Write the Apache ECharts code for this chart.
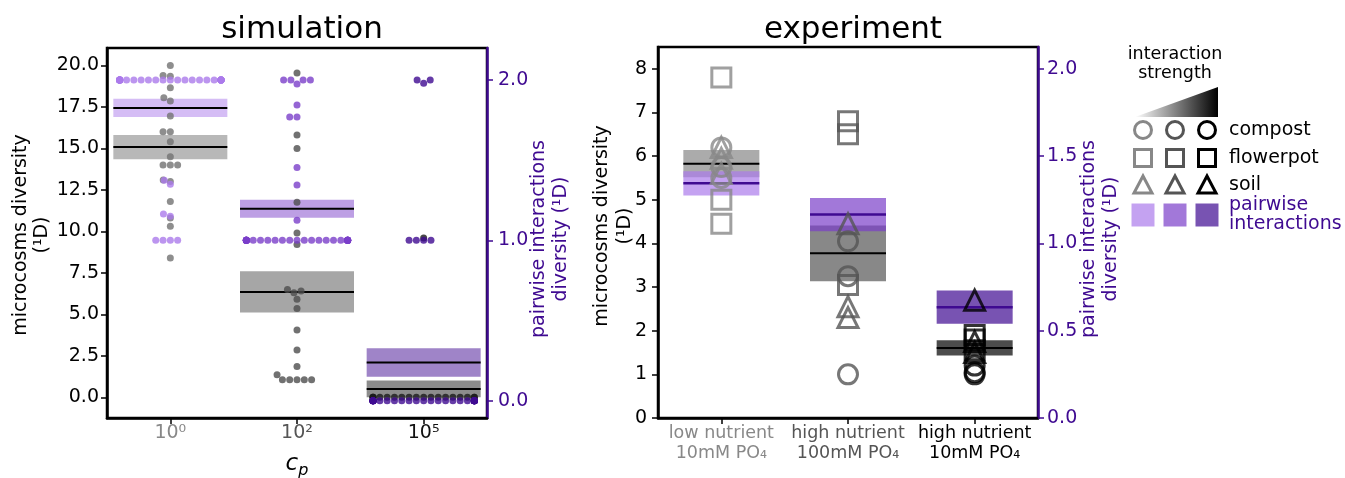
<!DOCTYPE html>
<html>
<head>
<meta charset="utf-8">
<script src="https://cdn.jsdelivr.net/npm/echarts@6/dist/echarts.min.js"></script>
<style>
html, body { margin: 0; padding: 0; background: #fff; }
#chart { width: 1345px; height: 478px; }
</style>
</head>
<body>
<div id="chart"></div>
<script>
var FONT = 'DejaVu Sans';
var PURPLE = '#3f0a91';

// ---- simulation panel ----
var simLabels = ['10⁰', '10²', '10⁵'];
var simLabelColors = ['#888888', '#555555', '#111111'];
var simGrayColors = ['#727272', '#4d4d4d', '#1a1a1a'];
var simPairColors = ['#ab7beb', '#7b3fc9', '#3f0a91'];
var simMicroTicks = [0, 2.5, 5, 7.5, 10, 12.5, 15, 17.5, 20];
var simPairTicks = [0, 1, 2];

// microcosms diversity of each replicate, per c_p
var simMicroLow = [20.0, 19.4, 19.35, 18.65, 18.05, 17.85, 16.95, 16.0, 16.0, 15.4,
  14.5, 14.0, 14.0, 14.0, 13.1, 13.0, 11.8, 10.8, 10.3, 8.4];
var simMicroMid = [19.55, 15.8, 15.0, 11.75, 9.9, 9.2, 6.5, 6.4, 6.3, 5.9,
  5.35, 4.05, 2.85, 1.85, 1.35, 1.05, 1.05, 1.05, 1.05, 1.05];
var simMicroHigh = [9.6, 0, 0, 0, 0, 0, 0, 0, 0, 0, 0, 0, 0, 0, 0, 0, 0, 0, 0];

// pairwise interactions diversity, per c_p
var simPairLow = [2.0, 2.0, 2.0, 2.0, 2.0, 2.0, 2.0, 2.0, 2.0, 2.0, 2.0, 2.0, 2.0, 2.0, 2.0, 2.0,
  2.0, 2.0, 2.0, 2.0, 2.0, 2.0, 2.0, 2.0, 2.0, 2.0, 2.0, 2.0, 2.0, 2.0, 2.0, 2.0,
  1.375, 1.35, 1.165, 1.15, 1.0, 1.0, 1.0, 1.0];
var simPairMid = [2.0, 2.0, 2.0, 2.0, 1.975, 1.845, 1.77, 1.77, 1.455, 1.345, 1.125,
  1.0, 1.0, 1.0, 1.0, 1.0, 1.0, 1.0, 1.0, 1.0, 1.0, 1.0, 1.0, 1.0, 1.0, 1.0, 1.0,
  1.0, 1.0, 1.0, 1.0, 1.0, 1.0, 1.0, 1.0, 1.0, 1.0, 1.0, 1.0, 1.0, 1.0, 1.0];
var simPairHigh = [2.0, 2.0, 1.98, 1.0, 1.0, 1.0, 1.0,
  0, 0, 0, 0, 0, 0, 0, 0, 0, 0, 0, 0, 0, 0, 0, 0, 0, 0, 0, 0, 0, 0, 0, 0, 0, 0, 0, 0, 0, 0, 0, 0, 0, 0, 0];

// ---- experiment panel ----
var expLabels = ['low nutrient\n10mM PO₄', 'high nutrient\n100mM PO₄', 'high nutrient\n10mM PO₄'];
var expColors = ['#888888', '#555555', '#000000'];
var expPairColors = ['#ab7beb', '#7b3fc9', '#3f0a91'];
var expMicroTicks = [0, 1, 2, 3, 4, 5, 6, 7, 8];
var expPairTicks = [0, 0.5, 1, 1.5, 2];
var expCompost = [[6.2, 5.75, 5.5], [4.05, 3.25, 1.0], [1.2, 1.05, 1.0]];
var expFlowerpot = [[7.8, 5.0, 4.45], [6.8, 6.5, 3.05], [1.9, 1.8, 1.55]];
var expSoil = [[6.2, 5.95, 5.6], [4.45, 2.55, 2.3], [2.7, 1.75, 1.5]];
var expPairMean = [1.344, 1.165, 0.635];
var expPairLo = [1.275, 1.07, 0.54];
var expPairHi = [1.413, 1.26, 0.731];

function meanSe(a) {
  var n = a.length, m = 0, v = 0;
  a.forEach(function (x) { m += x; });
  m /= n;
  a.forEach(function (x) { v += (x - m) * (x - m); });
  var se = Math.sqrt(v / (n - 1) / n);
  return [m, m - se, m + se];
}

function rgba(hex, a) {
  var r = parseInt(hex.substr(1, 2), 16), g = parseInt(hex.substr(3, 2), 16), b = parseInt(hex.substr(5, 2), 16);
  return 'rgba(' + r + ',' + g + ',' + b + ',' + a + ')';
}

// seaborn-like beeswarm on pixel positions, returns pixel offsets
function swarm(pys, d, gutter) {
  var order = pys.map(function (y, i) { return i; }).sort(function (a, b) { return pys[b] - pys[a]; });
  var placed = [], out = [];
  order.forEach(function (i) {
    var y = pys[i];
    var near = placed.filter(function (p) { return Math.abs(p.y - y) < d; });
    var cands = [0];
    near.forEach(function (p) {
      var dx = Math.sqrt(d * d - (p.y - y) * (p.y - y));
      cands.push(p.x - dx, p.x + dx);
    });
    cands = cands.map(function (c, k) { return { c: c, k: k }; })
      .sort(function (a, b) { return (Math.abs(a.c) - Math.abs(b.c)) || (a.k - b.k); });
    var x = 0;
    for (var j = 0; j < cands.length; j++) {
      var c = cands[j].c;
      var ok = near.every(function (p) { return (p.x - c) * (p.x - c) + (p.y - y) * (p.y - y) >= d * d - 0.05; });
      if (ok) { x = c; break; }
    }
    placed.push({ x: x, y: y });
    out[i] = Math.max(-gutter, Math.min(gutter, x));
  });
  return out;
}

function boxRender(halfW, lineColor, lineW, fills) {
  return function (params, api) {
    var i = api.value(0);
    var a = api.coord([i - halfW, api.value(3)]);
    var b = api.coord([i + halfW, api.value(2)]);
    var m = api.coord([i, api.value(1)]);
    return {
      type: 'group',
      children: [
        { type: 'rect', shape: { x: a[0], y: a[1], width: b[0] - a[0], height: b[1] - a[1] },
          style: { fill: fills[i] } },
        { type: 'line', shape: { x1: a[0], y1: m[1], x2: b[0], y2: m[1] },
          style: { stroke: lineColor, lineWidth: lineW } }
      ]
    };
  };
}

var simMicro = [simMicroLow, simMicroMid, simMicroHigh];
var simPair = [simPairLow, simPairMid, simPairHigh];
var simMicroBox = simMicro.map(function (a, i) { return [i].concat(meanSe(a)); });
var simPairBox = simPair.map(function (a, i) { return [i].concat(meanSe(a)); });
var expMicroBox = [0, 1, 2].map(function (i) {
  return [i].concat(meanSe(expCompost[i].concat(expFlowerpot[i], expSoil[i])));
});
var expPairBox = [0, 1, 2].map(function (i) { return [i, expPairMean[i], expPairLo[i], expPairHi[i]]; });

function markerData(groups) {
  var out = [];
  groups.forEach(function (vals, i) {
    vals.forEach(function (v) {
      out.push({ value: [i, v], itemStyle: { borderColor: expColors[i] } });
    });
  });
  return out;
}

function yAxisDef(grid, pos, min, max, ticks, color, fmt, margin) {
  return {
    gridIndex: grid, type: 'value', position: pos, min: min, max: max,
    splitLine: { show: false },
    axisLine: { show: true, onZero: false, lineStyle: { color: color, width: 2.5 } },
    axisTick: { show: true, customValues: ticks, length: 6, lineStyle: { color: color, width: 1.5 } },
    axisLabel: { customValues: ticks, formatter: fmt, color: color, fontSize: 19, fontFamily: FONT, margin: margin }
  };
}

var chart = echarts.init(document.getElementById('chart'));

var titleStyle = { fontSize: 31, fontWeight: 'normal', color: '#000', fontFamily: FONT };
var legendX = [1143, 1175, 1207];
var legendG = [];
legendG.push({ type: 'text', x: 1175, y: 64, style: { text: 'interaction\nstrength', fontSize: 17.5, lineHeight: 19,
  fontFamily: FONT, fill: '#000', align: 'center', verticalAlign: 'middle' } });
legendG.push({ type: 'polygon', shape: { points: [[1135, 117], [1218, 87], [1218, 117]] },
  style: { fill: new echarts.graphic.LinearGradient(0, 0, 1, 0, [{ offset: 0, color: '#ffffff' }, { offset: 1, color: '#000000' }]) } });
legendX.forEach(function (cx, i) {
  legendG.push({ type: 'circle', shape: { cx: cx, cy: 130, r: 8.5 }, style: { fill: 'none', stroke: expColors[i], lineWidth: 3 } });
  legendG.push({ type: 'rect', shape: { x: cx - 8.5, y: 149.5, width: 17, height: 17 }, style: { fill: 'none', stroke: expColors[i], lineWidth: 3 } });
  legendG.push({ type: 'polygon', shape: { points: [[cx, 176], [cx - 9, 193], [cx + 9, 193]] }, style: { fill: 'none', stroke: expColors[i], lineWidth: 3 } });
  legendG.push({ type: 'rect', shape: { x: cx - 11.5, y: 203.5, width: 23, height: 23 }, style: { fill: rgba(expPairColors[i], 0.7) } });
});
[['compost', 130], ['flowerpot', 158], ['soil', 185]].forEach(function (t) {
  legendG.push({ type: 'text', x: 1229, y: t[1], style: { text: t[0], fontSize: 19, fontFamily: FONT, fill: '#000', verticalAlign: 'middle' } });
});
legendG.push({ type: 'text', x: 1229, y: 215, style: { text: 'pairwise\ninteractions', fontSize: 19, lineHeight: 19,
  fontFamily: FONT, fill: PURPLE, verticalAlign: 'middle' } });

// axis titles
function vTitle(x, y, text, color, lh) {
  return { type: 'text', x: x, y: y, rotation: Math.PI / 2,
    style: { text: text, fontSize: 19, lineHeight: lh, fontFamily: FONT, fill: color, align: 'center', verticalAlign: 'middle' } };
}
legendG.push(vTitle(32, 235, 'microcosms diversity\n(¹D)', '#000', 21));
legendG.push(vTitle(550, 239, 'pairwise interactions\ndiversity (¹D)', PURPLE, 22));
legendG.push(vTitle(614, 226, 'microcosms diversity\n(¹D)', '#000', 23));
legendG.push(vTitle(1100, 239, 'pairwise interactions\ndiversity (¹D)', PURPLE, 22));

var option = {
  animation: false,
  backgroundColor: '#fff',
  title: [
    { text: 'simulation', left: 297, top: 9, textAlign: 'center', textStyle: titleStyle },
    { text: 'experiment', left: 848, top: 9, textAlign: 'center', textStyle: titleStyle }
  ],
  grid: [
    { left: 107, top: 48, width: 380, height: 370, show: true, borderColor: '#000', borderWidth: 2.5,
      backgroundColor: 'transparent', containLabel: false, outerBoundsMode: 'none' },
    { left: 658, top: 47, width: 380, height: 371, show: true, borderColor: '#000', borderWidth: 2.5,
      backgroundColor: 'transparent', containLabel: false, outerBoundsMode: 'none' }
  ],
  xAxis: [
    {
      gridIndex: 0, type: 'value', min: -0.5, max: 2.5, splitLine: { show: false },
      axisLine: { onZero: false, lineStyle: { color: '#000', width: 2.5 } },
      axisTick: { show: true, customValues: [0, 1, 2], length: 6, lineStyle: { color: '#000', width: 1.5 } },
      axisLabel: {
        customValues: [0, 1, 2], fontSize: 19, fontFamily: FONT, margin: 6,
        formatter: function (v) { return simLabels[Math.round(v)]; },
        color: function (v) { return simLabelColors[Math.round(parseFloat(v))]; }
      },
      name: '{c|c}{p|p}', nameLocation: 'middle', nameGap: 31,
      nameTextStyle: { rich: {
        c: { fontSize: 23, fontStyle: 'italic', fontFamily: FONT, color: '#000', lineHeight: 30 },
        p: { fontSize: 16, fontStyle: 'italic', fontFamily: FONT, color: '#000', lineHeight: 12, verticalAlign: 'bottom' }
      } }
    },
    {
      gridIndex: 1, type: 'value', min: -0.5, max: 2.5, splitLine: { show: false },
      axisLine: { onZero: false, lineStyle: { color: '#000', width: 2.5 } },
      axisTick: { show: true, customValues: [0, 1, 2], length: 6, lineStyle: { color: '#000', width: 1.5 } },
      axisLabel: {
        customValues: [0, 1, 2], fontSize: 17.5, lineHeight: 20, fontFamily: FONT, margin: 5,
        formatter: function (v) { return expLabels[Math.round(v)]; },
        color: function (v) { return expColors[Math.round(parseFloat(v))]; }
      }
    }
  ],
  yAxis: [
    yAxisDef(0, 'left', -1.25, 21.05, simMicroTicks, '#000', function (v) { return v.toFixed(1); }, 8),
    yAxisDef(0, 'right', -0.108, 2.2, simPairTicks, PURPLE, function (v) { return v.toFixed(1); }, 11),
    yAxisDef(1, 'left', 0, 8.5, expMicroTicks, '#000', function (v) { return String(v); }, 11),
    yAxisDef(1, 'right', 0, 2.125, expPairTicks, PURPLE, function (v) { return v.toFixed(1); }, 9)
  ],
  graphic: legendG,
  series: [
    { type: 'custom', xAxisIndex: 0, yAxisIndex: 0, data: simMicroBox,
      renderItem: boxRender(0.45, '#000', 2, simGrayColors.map(function (c) { return rgba(c, 0.5); })) },
    { id: 'simMicroDots', type: 'scatter', xAxisIndex: 0, yAxisIndex: 0, symbolSize: 7, data: [] },
    { type: 'custom', xAxisIndex: 0, yAxisIndex: 1, data: simPairBox,
      renderItem: boxRender(0.45, '#000', 2, simPairColors.map(function (c) { return rgba(c, 0.5); })) },
    { id: 'simPairDots', type: 'scatter', xAxisIndex: 0, yAxisIndex: 1, symbolSize: 7, data: [] },
    { type: 'scatter', xAxisIndex: 1, yAxisIndex: 2, symbol: 'circle', symbolSize: 19,
      itemStyle: { color: 'rgba(0,0,0,0)', borderWidth: 3 }, data: markerData(expCompost) },
    { type: 'scatter', xAxisIndex: 1, yAxisIndex: 2, symbol: 'rect', symbolSize: 19,
      itemStyle: { color: 'rgba(0,0,0,0)', borderWidth: 3 }, data: markerData(expFlowerpot) },
    { type: 'scatter', xAxisIndex: 1, yAxisIndex: 2, symbol: 'triangle', symbolSize: 20,
      itemStyle: { color: 'rgba(0,0,0,0)', borderWidth: 3 }, data: markerData(expSoil) },
    { type: 'custom', xAxisIndex: 1, yAxisIndex: 2, data: expMicroBox,
      renderItem: boxRender(0.3, '#000', 2, expColors.map(function (c) { return rgba(c, 0.7); })) },
    { type: 'custom', xAxisIndex: 1, yAxisIndex: 3, data: expPairBox,
      renderItem: boxRender(0.3, PURPLE, 2.5, expPairColors.map(function (c) { return rgba(c, 0.7); })) }
  ]
};

chart.setOption(option);

// swarm layout in pixel space, then back to data units
var pxPerX = chart.convertToPixel({ xAxisIndex: 0 }, 1) - chart.convertToPixel({ xAxisIndex: 0 }, 0);
var DOT = 7.3, GUTTER = 0.4 * pxPerX;

function swarmData(groups, yAxisIndex, colors) {
  var out = [];
  groups.forEach(function (vals, i) {
    var pys = vals.map(function (v) { return chart.convertToPixel({ yAxisIndex: yAxisIndex }, v); });
    var offs = swarm(pys, DOT, GUTTER);
    vals.forEach(function (v, k) {
      out.push({ value: [i + offs[k] / pxPerX, v], itemStyle: { color: colors[i] } });
    });
  });
  return out;
}

chart.setOption({
  series: [
    { id: 'simMicroDots', data: swarmData(simMicro, 0, simGrayColors) },
    { id: 'simPairDots', data: swarmData(simPair, 1, simPairColors) }
  ]
});
</script>
</body>
</html>
